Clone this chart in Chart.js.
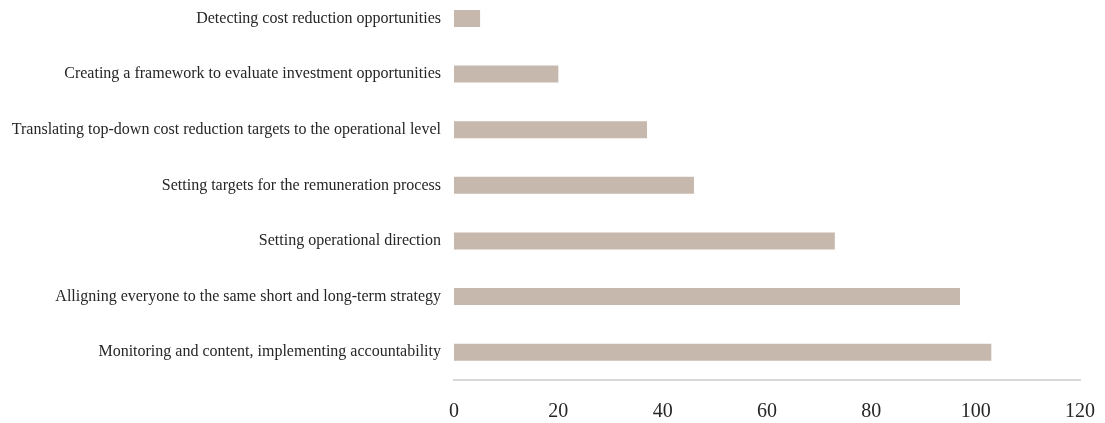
<!DOCTYPE html>
<html>
<head>
<meta charset="utf-8">
<script src="https://cdn.jsdelivr.net/npm/chart.js@4"></script>
<style>
  html, body { margin: 0; padding: 0; background: #fff; overflow: hidden; }
  #wrap { position: absolute; left: 0; top: -32px; width: 1105px; height: 477px; }
</style>
</head>
<body>
<div id="wrap"><canvas id="grafica"></canvas></div>
<script>
// categorias (de arriba hacia abajo) y valores
const categorias = [
  'Detecting cost reduction opportunities',
  'Creating a framework to evaluate investment opportunities',
  'Translating top-down cost reduction targets to the operational level',
  'Setting targets for the remuneration process',
  'Setting operational direction',
  'Alligning everyone to the same short and long-term strategy',
  'Monitoring and content, implementing accountability'
];
const valores = [5, 20, 37, 46, 73, 97, 103];
const ticksX = [0, 20, 40, 60, 80, 100, 120];

const ctx = document.getElementById('grafica').getContext('2d');
new Chart(ctx, {
  type: 'bar',
  data: {
    labels: categorias,
    datasets: [{
      data: valores,
      backgroundColor: '#c6b8ad',
      borderWidth: 0,
      barPercentage: 0.305,
      categoryPercentage: 1
    }]
  },
  options: {
    indexAxis: 'y',
    responsive: true,
    maintainAspectRatio: false,
    animation: false,
    layout: { padding: { top: 0, right: 25, bottom: 1, left: 0 } },
    plugins: { legend: { display: false }, tooltip: { enabled: false } },
    scales: {
      x: {
        min: ticksX[0],
        max: ticksX[ticksX.length - 1],
        afterBuildTicks: s => { s.ticks = ticksX.map(v => ({ value: v })); },
        afterFit: s => { s.paddingLeft = 0; s.paddingRight = 0; },
        grid: { display: false, drawTicks: false },
        border: { display: true, color: '#d9d9d9', width: 2 },
        ticks: {
          padding: 20,
          color: '#262626',
          font: { family: '"Liberation Serif", "Times New Roman", serif', size: 20 }
        }
      },
      y: {
        afterFit: s => { s.width = 454; },
        grid: { display: false, drawTicks: false },
        border: { display: false },
        ticks: {
          padding: 13,
          autoSkip: false,
          color: '#262626',
          font: { family: '"Liberation Serif", "Times New Roman", serif', size: 16 }
        }
      }
    }
  }
});
</script>
</body>
</html>
